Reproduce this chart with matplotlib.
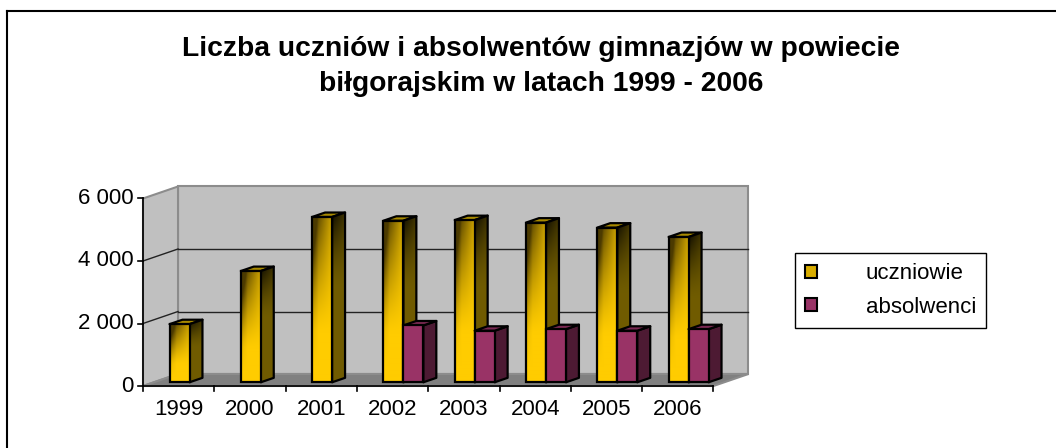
import numpy as np
import matplotlib.pyplot as plt
from matplotlib.patches import Polygon, Patch
from matplotlib.lines import Line2D

plt.rcParams['font.family'] = ['Liberation Sans', 'DejaVu Sans']

# dane
lata = ['1999', '2000', '2001', '2002', '2003', '2004', '2005', '2006']
uczniowie = [1860, 3560, 5290, 5170, 5190, 5110, 4950, 4650]
absolwenci = [np.nan, np.nan, np.nan, 1820, 1650, 1700, 1650, 1700]
y_ticks = [0, 2000, 4000, 6000]
y_labels = ['0', '2 000', '4 000', '6 000']
serie = ['uczniowie', 'absolwenci']
tytul = 'Liczba uczniów i absolwentów gimnazjów w powiecie\nbiłgorajskim w latach 1999 - 2006'

W, H = 1056, 448
fig = plt.figure(figsize=(W / 100, H / 100), dpi=100)

# obszar wykresu (1 kategoria = 71.3 px, 1 px = 32 jednostki)
ax = fig.add_axes([100 / W, (H - 425) / H, 670 / W, 255 / H])
ax.axis('off')

n = len(lata)
ymax = y_ticks[-1]
DX, DY = 0.491, 384        # glebokosc "pudelka" 3D
bw = 0.28                  # szerokosc slupka
f0, f1 = 0.31, 0.68        # polozenie slupka w glebi

wall = '#c0c0c0'
floor = '#808080'

# sciany i podloga
ax.add_patch(Polygon([(DX, DY), (n + DX, DY), (n + DX, ymax + DY), (DX, ymax + DY)],
                     closed=True, fc=wall, ec='#8c8c8c', lw=1.5, zorder=1))
ax.add_patch(Polygon([(0, 0), (DX, DY), (DX, ymax + DY), (0, ymax)],
                     closed=True, fc=wall, ec='#8c8c8c', lw=1.5, zorder=1))
ax.add_patch(Polygon([(0, 0), (n, 0), (n + DX, DY), (DX, DY)],
                     closed=True, fc=floor, ec='#8c8c8c', lw=1.5, zorder=1))

# linie siatki
for v in y_ticks[1:-1]:
    ax.plot([DX, n + DX], [v + DY, v + DY], color='#222222', lw=1, zorder=2)
    ax.plot([0, DX], [v, v + DY], color='#222222', lw=1, zorder=2)

# osie
ax.plot([0, 0], [0, ymax], color='black', lw=1.2, zorder=3)
ax.plot([0, n], [0, 0], color='black', lw=1.2, zorder=3)
for v, lab in zip(y_ticks, y_labels):
    ax.plot([-0.07, 0], [v, v], color='black', lw=1.2, zorder=3)
    ax.text(-0.13, v, lab, ha='right', va='center', fontsize=16)
for i in range(n + 1):
    ax.plot([i, i], [0, -160], color='black', lw=1.2, zorder=3)
for i, lab in enumerate(lata):
    ax.text(i + 0.5, -736, lab, ha='center', va='center', fontsize=16)


def gradient(c_light, c_dark, d):
    c1 = np.array(c_light)[None, None, :]
    c2 = np.array(c_dark)[None, None, :]
    return c1 * (1 - d[..., None]) + c2 * d[..., None]


def slupek(x0, v, kolory, z, grad):
    front_c, side_c, top_c = kolory
    ox, oy = f0 * DX, f0 * DY
    ex, ey = (f1 - f0) * DX, (f1 - f0) * DY
    xl = x0 + ox
    xr = xl + bw
    yt = oy + v
    side = Polygon([(xr, oy), (xr + ex, oy + ey), (xr + ex, yt + ey), (xr, yt)],
                   closed=True, fc=side_c, ec='black', lw=1.6, zorder=z, joinstyle='round')
    top = Polygon([(xl, yt), (xr, yt), (xr + ex, yt + ey), (xl + ex, yt + ey)],
                  closed=True, fc=top_c, ec='black', lw=1.6, zorder=z, joinstyle='round')
    ax.add_patch(side)
    ax.add_patch(top)
    rect = ax.bar(xl, v, width=bw, bottom=oy, align='edge', color=front_c,
                  edgecolor='black', lw=1.6, zorder=z + 0.2)[0]
    if grad:
        uu, ww = np.meshgrid(np.linspace(0, 1, 40), np.linspace(0, 1, 120))
        # ciemny klin w lewym gornym rogu
        d = np.clip((ww - 0.3) / 0.7, 0, 1) ** 1.3 * (1.0 - 0.75 * uu)
        d = d + 0.45 * np.clip(1 - 3 * uu, 0, 1) * np.clip((ww - 0.1) / 0.9, 0, 1)
        d = np.clip(d, 0, 0.88)
        img = gradient((1.0, 0.8, 0.0), (0.2, 0.15, 0.0), d)
        im = ax.imshow(img, extent=[xl, xr, oy, yt], origin='lower', aspect='auto',
                       interpolation='bilinear', zorder=z + 0.1)
        im.set_clip_path(rect)
        rect.set_facecolor('none')
        # bok
        d2 = np.clip((ww - 0.55) / 0.45, 0, 1) ** 1.5 * (1 - 0.5 * uu) * 0.9
        img2 = gradient((0.44, 0.36, 0.0), (0.0, 0.0, 0.0), d2)
        im2 = ax.imshow(img2, extent=[xr, xr + ex, oy, yt + ey], origin='lower', aspect='auto',
                        interpolation='bilinear', zorder=z)
        im2.set_clip_path(side)
        side.set_facecolor('none')
        side.set_zorder(z + 0.05)


kolory_u = ('#ffcc00', '#6b5800', '#a88a00')
kolory_a = ('#993366', '#4d1a33', '#7a2952')
z = 5
for i in range(n):
    slupek(i + 0.5 - bw, uczniowie[i], kolory_u, z, True)
    z += 1
    if not np.isnan(absolwenci[i]):
        slupek(i + 0.5, absolwenci[i], kolory_a, z, False)
    z += 1

ax.set_xlim(-43 / 71.3, (770 - 143) / 71.3)
ax.set_ylim((386 - 425) * 32, (386 - 170) * 32)

# tytul
fig.text(541 / W, 1 - 66.5 / H, tytul, ha='center', va='center', fontsize=20.3,
         fontweight='bold', linespacing=1.42)

# legenda
uchwyty = [Patch(facecolor='#d9ad00', edgecolor='black', lw=1.5),
           Patch(facecolor='#993366', edgecolor='black', lw=1.5)]
leg = fig.legend(uchwyty, serie, loc='center', bbox_to_anchor=(890.5 / W, 1 - 290.5 / H),
                 fontsize=16, frameon=True, fancybox=False, edgecolor='black', framealpha=1,
                 handlelength=0.55, handleheight=0.55, handletextpad=2.2,
                 labelspacing=0.55, borderpad=0.45, borderaxespad=0)
leg.get_frame().set_linewidth(1)

# ramka
fig.add_artist(Line2D([7 / W, 1], [1 - 11 / H, 1 - 11 / H], color='black', lw=1.5))
fig.add_artist(Line2D([7 / W, 7 / W], [0, 1 - 11 / H], color='black', lw=1.5))

plt.savefig('out.png', dpi=100)
